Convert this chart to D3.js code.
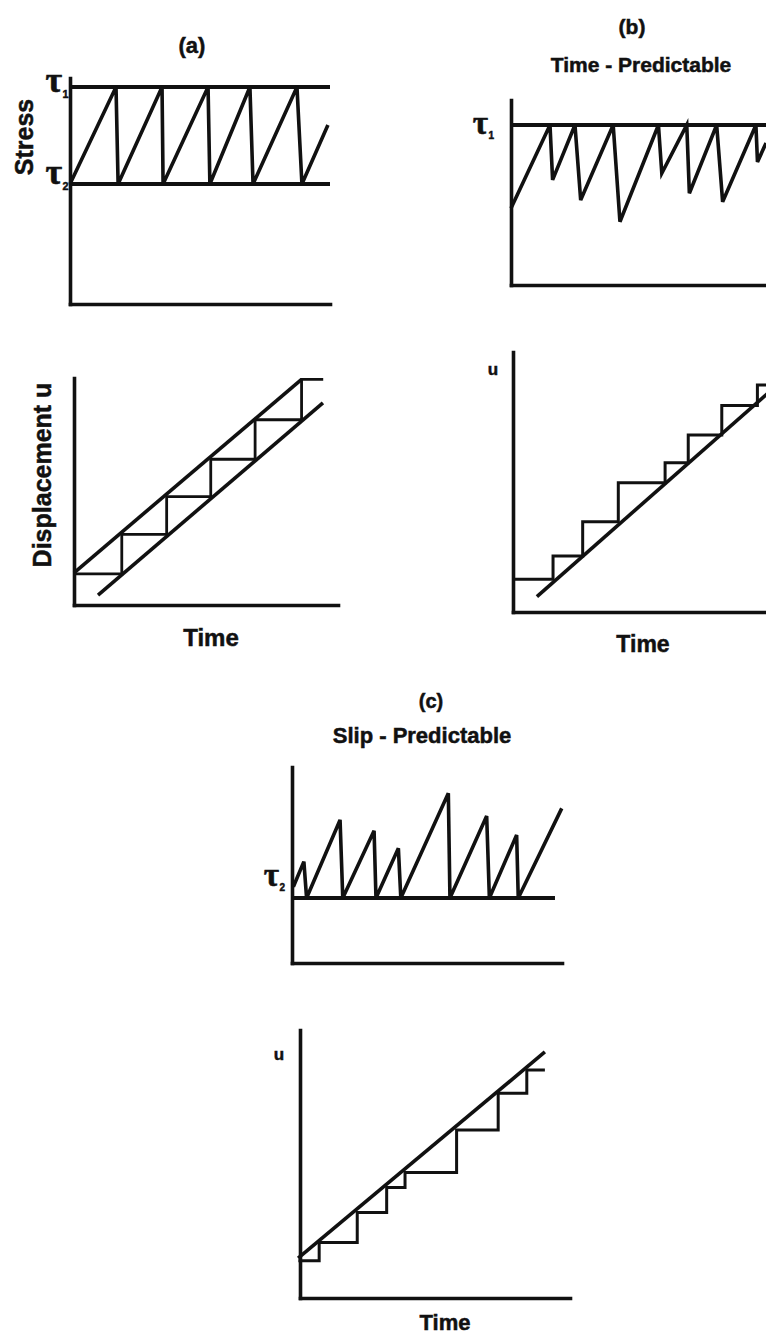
<!DOCTYPE html>
<html>
<head>
<meta charset="utf-8">
<script src="https://cdn.jsdelivr.net/npm/d3@7"></script>
<style>
  html, body { margin: 0; padding: 0; background: #fff; }
  svg { display: block; }
  .lbl { font-family: "Liberation Sans", Arial, Helvetica, sans-serif; font-weight: bold; fill: #111; stroke: #111; stroke-width: 0.5; }
  .tau { font-family: "Liberation Serif", "Times New Roman", serif; font-weight: bold; fill: #111; stroke: #111; stroke-width: 0.6; }
</style>
</head>
<body>
<svg id="fig" width="766" height="1334"></svg>
<script>
// Time runs 0..100 on every panel; stress and displacement are in arbitrary units 0..100.

// (a) Perfectly periodic model: stress saw-tooth between two thresholds
const tau1A = 96.0;
const tau2A = 53.1;
const stressA = [
  [0, 53.1], [17.7, 96.0], [18.5, 53.1], [35.4, 96.0], [35.8, 53.1],
  [53.1, 96.0], [53.8, 53.1], [69.2, 96.0], [70.4, 53.1], [87.3, 96.0],
  [89.2, 53.1], [99.2, 79.2]
];
const slipTimesA = [18.1, 35.1, 51.8, 68.6, 86.2];
const slipLevelsA = [13.7, 31.1, 47.7, 64.2, 81.6, 99.4];
const slipEndA = 94.4;
const upperLineA = [[0, 14.2], [86.2, 99.4]];
const lowerLineA = [[9.1, 4.4], [94.3, 89.0]];

// (b) Time-predictable model: every event starts at tau1, stress drops vary
const tau1B = 86.5;
const stressB = [
  [0, 41.5], [15.0, 86.5], [16.0, 56.8], [24.6, 86.5], [26.8, 45.9],
  [39.3, 86.5], [41.9, 34.2], [56.7, 86.5], [58.0, 60.4], [67.6, 86.5],
  [68.6, 49.6], [79.1, 86.5], [81.4, 45.0], [94.2, 86.5], [94.8, 66.5],
  [98.1, 76.8]
];
const slipTimesB = [15.4, 26.8, 40.5, 58.5, 67.4, 80.3, 94.0];
const slipLevelsB = [12.6, 21.5, 34.7, 49.7, 57.4, 68.1, 79.4, 87.3];
const slipEndB = 100;
const loadLineB = [[9.2, 5.9], [100, 85.9]];

// (c) Slip-predictable model: every event ends at tau2, peak stresses vary
const tau2C = 33.2;
const tau2EndC = 97.4;
const stressC = [
  [0.5, 38.9], [4.4, 51.7], [5.4, 33.2], [17.8, 73.0], [18.8, 33.2],
  [30.4, 67.5], [31.1, 33.2], [39.4, 58.5], [40.3, 33.2], [57.9, 86.6],
  [58.5, 33.2], [72.1, 75.0], [73.1, 33.2], [83.2, 65.3], [83.8, 33.2],
  [99.9, 78.9]
];
const slipTimesC = [7.1, 21.2, 32.1, 38.9, 58.0, 73.4, 84.0];
const slipLevelsC = [13.9, 20.7, 31.9, 41.2, 46.8, 62.7, 76.4, 85.1];
const slipEndC = 90.7;
const loadLineC = [[-0.7, 14.9], [90.7, 91.8]];

const ink = "#111";
const svg = d3.select("#fig");

// One bare L-shaped frame with its own scales
function frame(x0, x1, yb, yt) {
  const x = d3.scaleLinear().domain([0, 100]).range([x0, x1]);
  const y = d3.scaleLinear().domain([0, 100]).range([yb, yt]);
  const g = svg.append("g");
  g.append("g").attr("transform", `translate(0,${yb})`)
    .call(d3.axisBottom(x).tickValues([]).tickSizeOuter(0));
  g.append("g").attr("transform", `translate(${x0},0)`)
    .call(d3.axisLeft(y).tickValues([]).tickSizeOuter(0));
  g.selectAll(".domain")
    .attr("stroke", ink).attr("stroke-width", 3.6).attr("stroke-linecap", "square");
  const path = d3.line().x(d => x(d[0])).y(d => y(d[1]));
  const draw = (pts, w) => g.append("path").attr("d", path(pts))
    .attr("fill", "none").attr("stroke", ink).attr("stroke-width", w)
    .attr("stroke-linejoin", "miter");
  return { g, x, y, draw };
}

// Staircase of cumulative slip: flat between events, jump at each event
function stairs(start, times, levels, end) {
  const pts = [[start, levels[0]]];
  times.forEach((t, i) => { pts.push([t, levels[i]], [t, levels[i + 1]]); });
  pts.push([end, levels[levels.length - 1]]);
  return pts;
}

function label(x, y, text, size, opts = {}) {
  const t = svg.append("text").attr("class", "lbl")
    .attr("x", x).attr("y", y).attr("font-size", size)
    .attr("text-anchor", opts.anchor || "middle").text(text);
  if (opts.rotate) t.attr("transform", `rotate(-90,${x},${y})`);
  return t;
}

function tauLabel(xr, yBase, sub, size) {
  svg.append("text").attr("class", "tau").attr("x", xr).attr("y", yBase)
    .attr("font-size", size).attr("text-anchor", "end").text("τ");
  svg.append("text").attr("class", "lbl").attr("x", xr + 0.5).attr("y", yBase + size * 0.16)
    .attr("font-size", Math.max(10, size * 0.3)).attr("text-anchor", "start").text(sub);
}

// ---------- (a) ----------
label(192, 53, "(a)", 22);
const aS = frame(70, 330, 304, 78);
aS.draw([[0, tau1A], [100, tau1A]], 4);
aS.draw([[0, tau2A], [100, tau2A]], 4);
aS.draw(stressA, 3.6);
tauLabel(62, 92, "1", 36);
tauLabel(62, 184, "2", 36);
label(33, 137, "Stress", 25, { rotate: true });

const aU = frame(74, 338, 605, 378);
aU.draw(upperLineA, 3.6);
aU.draw(lowerLineA, 3.6);
aU.draw(stairs(0, slipTimesA, slipLevelsA, slipEndA), 2.8);
label(51, 475, "Displacement u", 25, { rotate: true });
label(211, 646, "Time", 24);

// ---------- (b) ----------
label(632, 34, "(b)", 21);
label(641, 72, "Time - Predictable", 21);
const bS = frame(511, 771, 285, 100);
bS.draw([[0, tau1B], [100, tau1B]], 4);
bS.draw(stressB, 3.6);
tauLabel(488, 134, "1", 33);

const bU = frame(513, 773, 612, 352);
bU.draw(loadLineB, 3.6);
bU.draw(stairs(0, slipTimesB, slipLevelsB, slipEndB), 3);
label(493, 375, "u", 17);
label(643, 652, "Time", 23);

// ---------- (c) ----------
label(431, 708, "(c)", 20);
label(422, 743, "Slip - Predictable", 22);
const cS = frame(292, 562, 963, 767);
cS.draw([[0, tau2C], [tau2EndC, tau2C]], 4);
cS.draw(stressC, 3.6);
tauLabel(279, 886, "2", 33);

const cU = frame(300, 570, 1298, 1030);
cU.draw(loadLineC, 3.6);
cU.draw(stairs(-0.6, slipTimesC, slipLevelsC, slipEndC), 3);
label(279, 1060, "u", 17);
label(445, 1330, "Time", 22);
</script>
</body>
</html>
